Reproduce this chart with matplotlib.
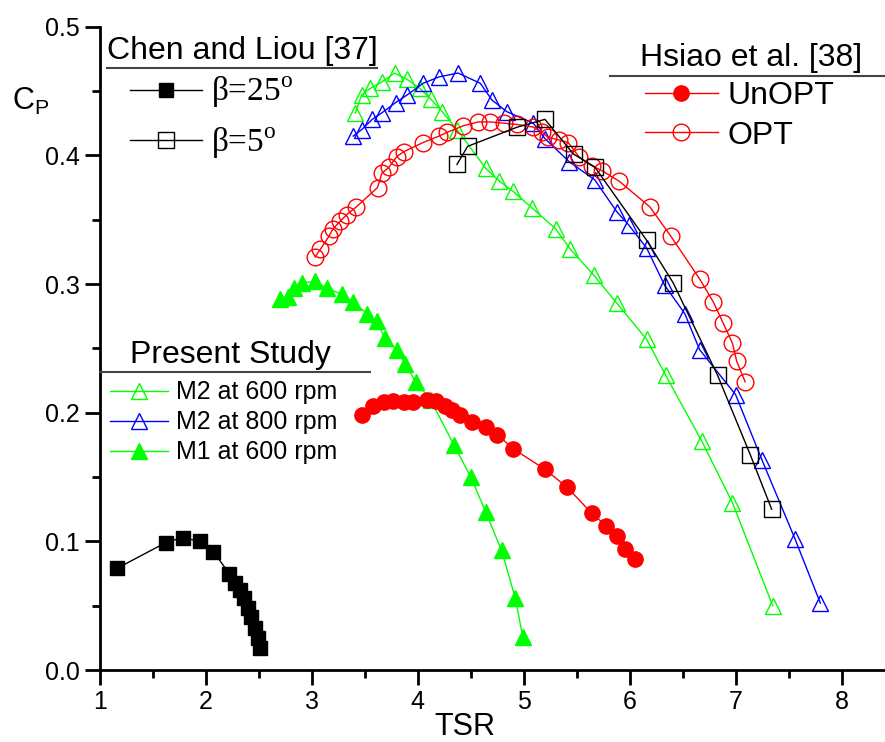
import matplotlib
matplotlib.use('Agg')
import matplotlib.pyplot as plt
from matplotlib.ticker import MultipleLocator

plt.rcParams['font.family'] = ['Liberation Sans', 'DejaVu Sans']
plt.rcParams['mathtext.fontset'] = 'custom'
plt.rcParams['mathtext.rm'] = 'Liberation Serif'
plt.rcParams['mathtext.sf'] = 'Liberation Sans'

# Chen and Liou [37]
chen25_tsr = [1.16, 1.62, 1.78, 1.94, 2.07, 2.22, 2.27, 2.32, 2.36, 2.40, 2.43, 2.46, 2.49, 2.51]
chen25_cp = [0.079, 0.099, 0.103, 0.100, 0.092, 0.075, 0.068, 0.062, 0.056, 0.048, 0.041, 0.033, 0.025, 0.017]
chen5_tsr = [4.37, 4.47, 4.94, 5.20, 5.47, 5.67, 6.16, 6.41, 6.83, 7.14, 7.34]
chen5_cp = [0.393, 0.407, 0.422, 0.428, 0.401, 0.391, 0.334, 0.301, 0.229, 0.167, 0.125]

# Hsiao et al. [38]
unopt_tsr = [3.47, 3.58, 3.68, 3.77, 3.87, 3.95, 4.09, 4.17, 4.26, 4.32, 4.40, 4.51, 4.64,
             4.75, 4.90, 5.20, 5.41, 5.64, 5.78, 5.88, 5.96, 6.05]
unopt_cp = [0.198, 0.205, 0.208, 0.209, 0.208, 0.208, 0.210, 0.209, 0.205, 0.202, 0.198, 0.193,
            0.189, 0.183, 0.172, 0.156, 0.142, 0.122, 0.112, 0.104, 0.094, 0.086]
opt_tsr = [3.03, 3.08, 3.16, 3.20, 3.27, 3.33, 3.42, 3.62, 3.66, 3.73, 3.80, 3.87, 4.05, 4.20,
           4.28, 4.43, 4.57, 4.68, 4.81, 4.94, 5.09, 5.17, 5.23, 5.33, 5.42, 5.52, 5.64, 5.74,
           5.90, 6.19, 6.39, 6.66, 6.79, 6.88, 6.97, 7.01, 7.09]
opt_cp = [0.321, 0.327, 0.337, 0.343, 0.349, 0.354, 0.360, 0.375, 0.386, 0.391, 0.399, 0.403,
          0.410, 0.415, 0.418, 0.423, 0.426, 0.426, 0.425, 0.424, 0.422, 0.418, 0.414, 0.412,
          0.410, 0.399, 0.392, 0.388, 0.380, 0.360, 0.337, 0.304, 0.286, 0.270, 0.254, 0.240,
          0.224]

# Present study
m2_600_tsr = [3.41, 3.47, 3.55, 3.66, 3.78, 3.90, 4.02, 4.12, 4.23, 4.37, 4.64, 4.77, 4.90,
              5.08, 5.30, 5.44, 5.66, 5.88, 6.16, 6.34, 6.68, 6.97, 7.35]
m2_600_cp = [0.433, 0.447, 0.452, 0.457, 0.464, 0.459, 0.452, 0.444, 0.434, 0.420, 0.390,
             0.380, 0.372, 0.359, 0.343, 0.327, 0.307, 0.285, 0.257, 0.229, 0.178, 0.130, 0.050]
m2_800_tsr = [3.39, 3.47, 3.57, 3.66, 3.79, 3.90, 4.05, 4.20, 4.38, 4.59, 4.70, 4.84, 5.09,
              5.20, 5.43, 5.67, 5.88, 5.99, 6.16, 6.33, 6.52, 6.66, 7.00, 7.25, 7.56, 7.80]
m2_800_cp = [0.415, 0.420, 0.428, 0.433, 0.441, 0.447, 0.456, 0.461, 0.464, 0.456, 0.443,
             0.434, 0.425, 0.413, 0.395, 0.381, 0.356, 0.346, 0.328, 0.299, 0.277, 0.249,
             0.214, 0.163, 0.102, 0.052]
m1_600_tsr = [2.70, 2.77, 2.83, 2.91, 3.03, 3.14, 3.28, 3.39, 3.52, 3.61, 3.69, 3.80, 3.88,
              3.98, 4.12, 4.34, 4.50, 4.64, 4.79, 4.92, 4.99]
m1_600_cp = [0.288, 0.290, 0.297, 0.301, 0.302, 0.297, 0.292, 0.286, 0.277, 0.271, 0.258,
             0.249, 0.238, 0.224, 0.210, 0.175, 0.150, 0.123, 0.093, 0.056, 0.026]

W, H = 885, 742
fig = plt.figure(figsize=(W / 100, H / 100), dpi=100)
ax = fig.add_axes([0.113, 0.097, 0.887, 0.867])

lw = 1.0
h_m2_600, = ax.plot(m2_600_tsr, m2_600_cp, color='#00ff00', lw=lw, marker='^', ms=12,
                    mfc='none', mec='#00ff00', mew=1.0)
h_m2_800, = ax.plot(m2_800_tsr, m2_800_cp, color='#0000ff', lw=lw, marker='^', ms=12,
                    mfc='none', mec='#0000ff', mew=1.0)
h_m1_600, = ax.plot(m1_600_tsr, m1_600_cp, color='#00ff00', lw=lw, marker='^', ms=12,
                    mfc='#00ff00', mec='#00ff00')
h_unopt, = ax.plot(unopt_tsr, unopt_cp, color='#ff0000', lw=lw, marker='o', ms=11,
                   mfc='#ff0000', mec='#ff0000')
h_opt, = ax.plot(opt_tsr, opt_cp, color='#ff0000', lw=lw, marker='o', ms=12,
                 mfc='none', mec='#ff0000', mew=1.0)
h_c25, = ax.plot(chen25_tsr, chen25_cp, color='black', lw=lw, marker='s', ms=10,
                 mfc='black', mec='black')
h_c5, = ax.plot(chen5_tsr, chen5_cp, color='black', lw=lw, marker='s', ms=11,
                mfc='none', mec='black', mew=1.0)

ax.set_xlim(1, 8.41)
ax.set_ylim(0, 0.5)
ax.xaxis.set_major_locator(MultipleLocator(1))
ax.xaxis.set_minor_locator(MultipleLocator(0.5))
ax.yaxis.set_major_locator(MultipleLocator(0.1))
ax.yaxis.set_minor_locator(MultipleLocator(0.05))
ax.spines['top'].set_visible(False)
ax.spines['right'].set_visible(False)
for s in ['left', 'bottom']:
    ax.spines[s].set_linewidth(2)
ax.tick_params(which='major', direction='out', length=11, width=2, labelsize=18)
ax.tick_params(which='minor', direction='out', length=6, width=2)
ax.yaxis.set_major_formatter(plt.FormatStrFormatter('%.1f'))

ax.set_xlabel('TSR', fontsize=22)
ax.xaxis.set_label_coords(0.465, -0.065)
ax.set_ylabel(r'C$_\mathsf{P}$', fontsize=22, rotation=0)
ax.yaxis.set_label_coords(-0.088, 0.86)


def group_title(text, x, y, x0, x1, line_y, size=23):
    # legend group heading with a rule underneath, placed in figure pixels
    fig.text(x / W, 1 - y / H, text, fontsize=size, ha='left', va='baseline')
    fig.add_artist(plt.Line2D([x0 / W, x1 / W], [1 - line_y / H, 1 - line_y / H],
                              color='#444444', lw=1.5))


def group_legend(handles, labels, x, y, **kw):
    return ax.legend(handles, labels, loc='upper left', bbox_to_anchor=(x / W, 1 - y / H),
                     bbox_transform=fig.transFigure, frameon=False, borderpad=0,
                     borderaxespad=0, **kw)


group_title('Chen and Liou [37]', 107, 58.5, 107, 377, 68)
leg1 = group_legend([h_c25, h_c5], ['β=25$^{\\rm o}$', 'β=5$^{\\rm o}$'], 130, 75,
                    prop={'family': 'Liberation Serif', 'size': 24},
                    handlelength=2.17, labelspacing=0.45, handletextpad=0.25)
ax.add_artist(leg1)

group_title('Hsiao et al. [38]', 640, 66, 610, 885, 76)
leg2 = group_legend([h_unopt, h_opt], ['UnOPT', 'OPT'], 645, 81, fontsize=23,
                    handlelength=2.28, labelspacing=0.3, handletextpad=0.3)
ax.add_artist(leg2)

group_title('Present Study', 130, 362.5, 100, 370, 372)
leg3 = group_legend([h_m2_600, h_m2_800, h_m1_600],
                    ['M2 at 600 rpm', 'M2 at 800 rpm', 'M1 at 600 rpm'], 110, 380.5,
                    fontsize=18, handlelength=2.3, labelspacing=0.24, handletextpad=0.33)

fig.savefig('out.png', dpi=100)
